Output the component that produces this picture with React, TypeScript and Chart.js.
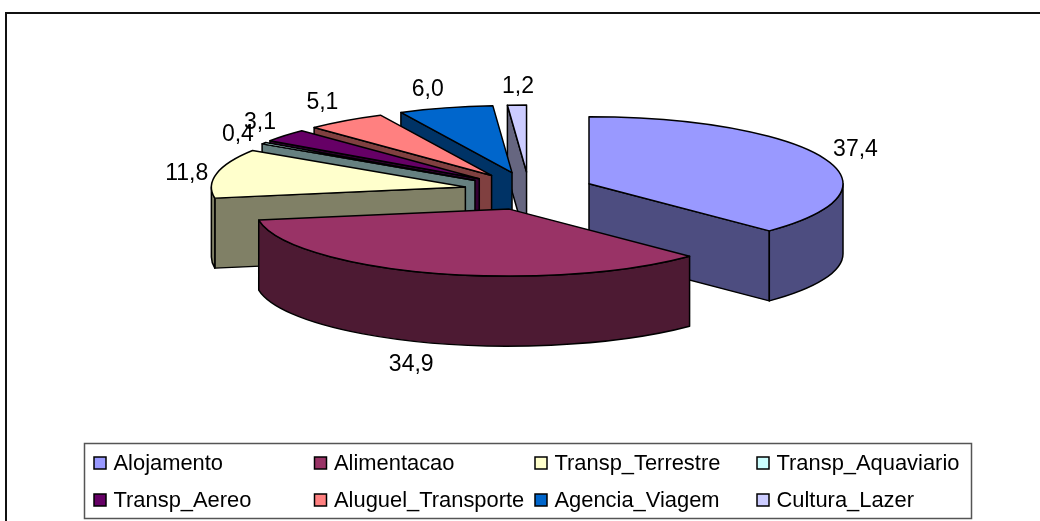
import React, { useEffect, useRef } from "react";
import { Chart, registerables } from "chart.js";

Chart.register(...registerables);

const categories = ["Alojamento", "Alimentacao", "Transp_Terrestre", "Transp_Aquaviario", "Transp_Aereo", "Aluguel_Transporte", "Agencia_Viagem", "Cultura_Lazer"];
const values = [37.4, 34.9, 11.8, 0.4, 3.1, 5.1, 6.0, 1.2];
const valueLabels = ["37,4", "34,9", "11,8", "0,4", "3,1", "5,1", "6,0", "1,2"];
const topColors = ["#9999FF", "#993366", "#FFFFCC", "#CCFFFF", "#660066", "#FF8080", "#0066CC", "#CCCCFF"];
const wallColors = ["#4D4D80", "#4D1A33", "#808066", "#668080", "#330033", "#804040", "#003366", "#666680"];

// Drawing geometry of the exploded, tilted pie
const RADIUS = 254;
const SQUASH = 67 / 254;
const EXPLODE_X = 65;
const EXPLODE_Y = 19;
const DEPTH = 70;
const PAINT_ORDER = [7, 6, 5, 4, 3, 2, 0, 1];
const LABEL_NUDGE = [[32, -8], [-21, 92], [-30, 0], [-26, -9], [-25, -13], [-23, -18], [-18, -18], [1, -18]];
const LABEL_FONT = '23px "Liberation Sans", Arial, sans-serif';
const LEGEND_FONT = '21.9px "Liberation Sans", Arial, sans-serif';

const LEGEND_BOX = { x: 84.5, y: 443.5, w: 887, h: 75 };
const LEGEND_COLS = [94, 314.5, 535, 757];
const LEGEND_ROWS = [463, 500];

const pie3d = {
  id: "pie3d",
  beforeDatasetDraw(chart: any) {
    const { ctx } = chart;
    const arcs = chart.getDatasetMeta(0).data;
    const TAU = Math.PI * 2;
    const apexOf = (arc: any) => {
      const mid = (arc.startAngle + arc.endAngle) / 2;
      return { x: arc.x + Math.cos(mid) * EXPLODE_X, y: arc.y + Math.sin(mid) * EXPLODE_Y, mid };
    };
    ctx.save();
    ctx.lineWidth = 1.5;
    ctx.strokeStyle = "#000";
    ctx.lineJoin = "round";
    for (const i of PAINT_ORDER) {
      const arc = arcs[i];
      const { x, y } = apexOf(arc);
      const rx = arc.outerRadius;
      const ry = rx * SQUASH;
      const a0 = arc.startAngle;
      const a1 = arc.endAngle;
      const wall = (a: number) => {
        const px = x + Math.cos(a) * rx;
        const py = y + Math.sin(a) * ry;
        ctx.beginPath();
        ctx.moveTo(x, y);
        ctx.lineTo(px, py);
        ctx.lineTo(px, py + DEPTH);
        ctx.lineTo(x, y + DEPTH);
        ctx.closePath();
        ctx.fillStyle = wallColors[i];
        ctx.fill();
        ctx.stroke();
      };
      if (Math.cos(a0) < 0) wall(a0);
      if (Math.cos(a1) > 0) wall(a1);
      // visible outer rim: the part of the slice on the lower half of the ellipse
      for (const k of [0, 1]) {
        const lo = Math.max(a0, k * TAU);
        const hi = Math.min(a1, k * TAU + Math.PI);
        if (hi > lo) {
          ctx.beginPath();
          ctx.ellipse(x, y, rx, ry, 0, lo, hi);
          ctx.ellipse(x, y + DEPTH, rx, ry, 0, hi, lo, true);
          ctx.closePath();
          ctx.fillStyle = wallColors[i];
          ctx.fill();
          ctx.stroke();
        }
      }
      ctx.beginPath();
      ctx.moveTo(x, y);
      ctx.ellipse(x, y, rx, ry, 0, a0, a1);
      ctx.closePath();
      ctx.fillStyle = topColors[i];
      ctx.fill();
      ctx.stroke();
    }
    // value labels
    ctx.font = LABEL_FONT;
    ctx.fillStyle = "#000";
    ctx.textAlign = "center";
    ctx.textBaseline = "middle";
    arcs.forEach((arc: any, i: number) => {
      const { x, y, mid } = apexOf(arc);
      const lx = x + Math.cos(mid) * arc.outerRadius + LABEL_NUDGE[i][0];
      const ly = y + Math.sin(mid) * arc.outerRadius * SQUASH + LABEL_NUDGE[i][1];
      ctx.fillText(valueLabels[i], lx, ly);
    });
    ctx.restore();
    return false;
  },
  afterDraw(chart: any) {
    const { ctx } = chart;
    ctx.save();
    // outer frame (only its top and left edges lie inside the picture)
    ctx.strokeStyle = "#111";
    ctx.lineWidth = 2;
    ctx.strokeRect(6, 13, 1060, 540);
    // legend
    ctx.strokeStyle = "#555";
    ctx.lineWidth = 1.5;
    ctx.strokeRect(LEGEND_BOX.x, LEGEND_BOX.y, LEGEND_BOX.w, LEGEND_BOX.h);
    ctx.font = LEGEND_FONT;
    ctx.textAlign = "left";
    ctx.textBaseline = "middle";
    chart.data.labels.forEach((label: string, i: number) => {
      const col = LEGEND_COLS[i % 4];
      const row = LEGEND_ROWS[Math.floor(i / 4)];
      ctx.fillStyle = topColors[i];
      ctx.fillRect(col, row - 6, 12, 12);
      ctx.strokeStyle = "#000";
      ctx.lineWidth = 1.5;
      ctx.strokeRect(col, row - 6, 12, 12);
      ctx.fillStyle = "#000";
      ctx.fillText(label, col + 19.5, row + 1);
    });
    ctx.restore();
  },
};

export default function App() {
  const ref = useRef<HTMLCanvasElement>(null);
  useEffect(() => {
    const chart = new Chart(ref.current as HTMLCanvasElement, {
      type: "pie",
      data: {
        labels: categories,
        datasets: [{ data: values, backgroundColor: topColors, borderColor: "#000", borderWidth: 1 }],
      },
      options: {
        animation: false,
        responsive: false,
        radius: RADIUS,
        layout: { padding: { left: 18, bottom: 139 } },
        plugins: { legend: { display: false }, tooltip: { enabled: false } },
      } as any,
      plugins: [pie3d as any],
    });
    return () => chart.destroy();
  }, []);
  return (
    <canvas
      ref={ref}
      width={1040}
      height={521}
      style={{ position: "absolute", left: 0, top: 0, display: "block", background: "#fff" }}
    />
  );
}
